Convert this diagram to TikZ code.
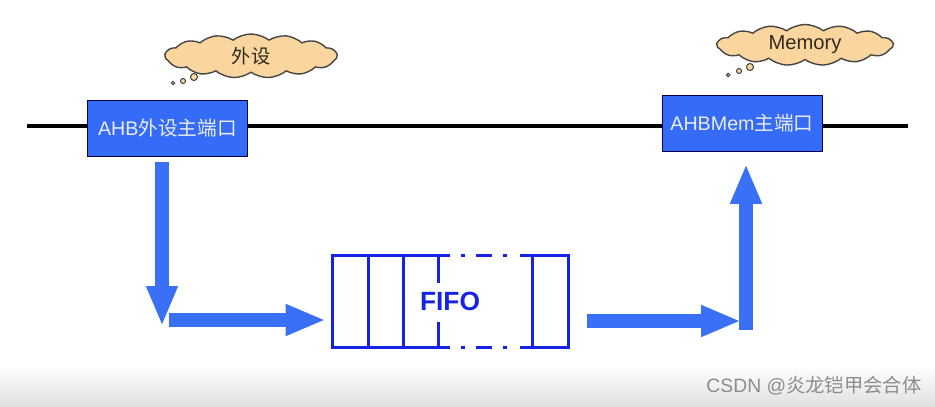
\documentclass[tikz,border=0pt]{standalone}
\usepackage{fontspec}
\setmainfont{Liberation Sans}
\newfontfamily\cjk{Noto Sans CJK SC}
\usetikzlibrary{arrows.meta,shapes.symbols}
\definecolor{portblue}{RGB}{52,108,248}
\definecolor{arrowblue}{RGB}{58,112,246}
\definecolor{fifoblue}{RGB}{22,34,232}
\definecolor{cloudfill}{RGB}{250,214,158}
\definecolor{cloudline}{RGB}{70,70,70}
\definecolor{cloudtext}{RGB}{50,42,30}

\begin{document}
\begin{tikzpicture}[x={(0.02cm,0)},y={(0,-0.02cm)},
  port/.style={draw=black!70!blue,fill=portblue,text=white!92!black,minimum width=3.2cm,minimum height=1.12cm,inner sep=0pt,font=\fontsize{11.2}{13}\selectfont},
  bigarrow/.style={draw=arrowblue,line width=0.28cm,-{Triangle[length=0.8cm,width=0.58cm]}},
  fifoline/.style={draw=fifoblue,line width=1.7pt},
  thought/.style={cloud,cloud puffs=15,cloud puff arc=75,cloud ignores aspect,draw=cloudline,fill=cloudfill,line width=0.8pt,inner sep=0pt,text=cloudtext},
  puff/.style={draw=cloudline,fill=cloudfill,line width=0.6pt}]
\fill[white] (0,0) rectangle (935,406);
\shade[top color=white,bottom color=black!12] (0,366) rectangle (935,406);
\useasboundingbox (0,0) rectangle (935,406);
\coordinate (busW) at (27,126);
\coordinate (busE) at (908,126);
\draw[line width=2.3pt] (busW) -- (busE);
\node[port] (perif) at (167.5,128.5) {AHB\cjk 外设主端口};
\node[port] (mem) at (742,123.5) {AHBMem\cjk 主端口};
\node[thought,minimum width=3.44cm,minimum height=0.88cm,font=\cjk\fontsize{11}{13}\selectfont] (perifcloud) at (251,56) {外设};
\node[thought,minimum width=3.52cm,minimum height=0.82cm,font=\fontsize{11.5}{13}\selectfont] (memcloud) at (805,45) {Memory};
\draw[puff] (173,83) circle (0.035cm) (183,81) circle (0.05cm) (194,77) circle (0.07cm);
\draw[puff] (728,75) circle (0.035cm) (739,71) circle (0.05cm) (750,67) circle (0.07cm);
\node[font=\bfseries\fontsize{15}{18}\selectfont,text=fifoblue,minimum width=4.72cm,minimum height=1.84cm] (fifo) at (450,301) {FIFO};
\draw[fifoline] (450,255) -- (332,255) -- (332,347) -- (450,347);
\draw[fifoline] (520,255) -- (568,255) -- (568,347) -- (520,347);
\draw[fifoline] (368,255) -- (368,347) (403,255) -- (403,347) (532,255) -- (532,347);
\draw[fifoline] (438,255) -- (438,283) (438,322) -- (438,347);
\draw[fifoline,dash pattern=on 0.08cm off 0.22cm on 0.32cm off 0.22cm] (461,255) -- (507,255) (461,347) -- (507,347);
\coordinate (downEnd) at (162,326);
\coordinate (inStart) at (169,320);
\coordinate (outEnd) at (741,321);
\coordinate (upStart) at (746,330);
\draw[bigarrow,shorten <=0.1cm] (downEnd |- perif.south) -- (downEnd);
\draw[bigarrow,shorten >=0.12cm] (inStart) -- (inStart -| fifo.west);
\draw[bigarrow,shorten <=0.38cm] (fifo.east |- outEnd) -- (outEnd);
\draw[bigarrow,shorten >=0.24cm] (upStart) -- (upStart |- mem.south);
\node[text=black!45,font=\fontsize{11}{13}\selectfont] (mark) at (814,386) {CSDN @{\cjk 炎龙铠甲会合体}};
\end{tikzpicture}
\end{document}
